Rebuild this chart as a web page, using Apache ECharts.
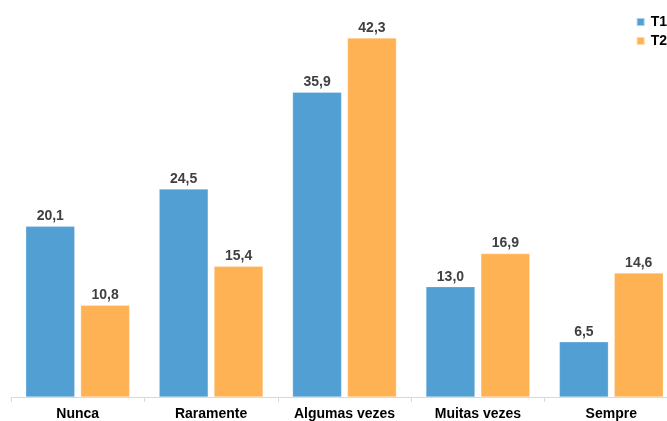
<!DOCTYPE html>
<html>
<head>
<meta charset="utf-8">
<script src="https://cdn.jsdelivr.net/npm/echarts@6/dist/echarts.min.js"></script>
<style>
  html, body { margin: 0; padding: 0; background: #fff; overflow: hidden; }
  /* the drawing surface is a bit wider than the window: the last category runs past the right edge */
  #chart { width: 678px; height: 421px; }
</style>
</head>
<body>
<div id="chart"></div>
<script>
const categories = ['Nunca', 'Raramente', 'Algumas vezes', 'Muitas vezes', 'Sempre'];
const seriesNames = ['T1', 'T2'];
const valuesT1 = [20.1, 24.5, 35.9, 13.0, 6.5];
const valuesT2 = [10.8, 15.4, 42.3, 16.9, 14.6];
const colors = ['#519fd3', '#ffb254'];

const FONT = 'Liberation Sans, Arial, sans-serif';
const fmt = p => p.value.toFixed(1).replace('.', ',');

const labelStyle = {
  show: true,
  position: 'top',
  distance: 3,
  formatter: fmt,
  fontFamily: FONT,
  fontWeight: 'bold',
  fontSize: 14,
  color: '#404040'
};

const chart = echarts.init(document.getElementById('chart'), null, { renderer: 'canvas' });
chart.setOption({
  animation: false,
  backgroundColor: '#fff',
  grid: { left: 11, top: 15, right: 0, bottom: 23.5, containLabel: false },
  legend: {
    orient: 'vertical',
    right: 6,
    top: 10,
    itemWidth: 8,
    itemHeight: 8,
    itemGap: 5,
    icon: 'rect',
    textStyle: {
      fontFamily: FONT,
      fontWeight: 'bold',
      fontSize: 14,
      color: '#000',
      padding: [0, 0, 0, 1]
    },
    data: seriesNames
  },
  xAxis: {
    type: 'category',
    data: categories,
    axisLine: { lineStyle: { color: '#d9d9d9', width: 1 } },
    axisTick: { show: true, length: 5, lineStyle: { color: '#d9d9d9' } },
    axisLabel: {
      margin: 10,
      fontFamily: FONT,
      fontWeight: 'bold',
      fontSize: 14,
      color: '#000',
      interval: 0
    }
  },
  yAxis: {
    type: 'value',
    min: 0,
    max: 45,
    show: false,
    splitLine: { show: false }
  },
  series: [
    {
      name: seriesNames[0],
      type: 'bar',
      data: valuesT1,
      barWidth: 49,
      barGap: '12%',
      itemStyle: { color: colors[0], borderColor: 'rgba(255,255,255,0.5)', borderWidth: 0.5 },
      label: labelStyle
    },
    {
      name: seriesNames[1],
      type: 'bar',
      data: valuesT2,
      barWidth: 49,
      itemStyle: { color: colors[1], borderColor: 'rgba(255,255,255,0.5)', borderWidth: 0.5 },
      label: labelStyle
    }
  ]
});
</script>
</body>
</html>
